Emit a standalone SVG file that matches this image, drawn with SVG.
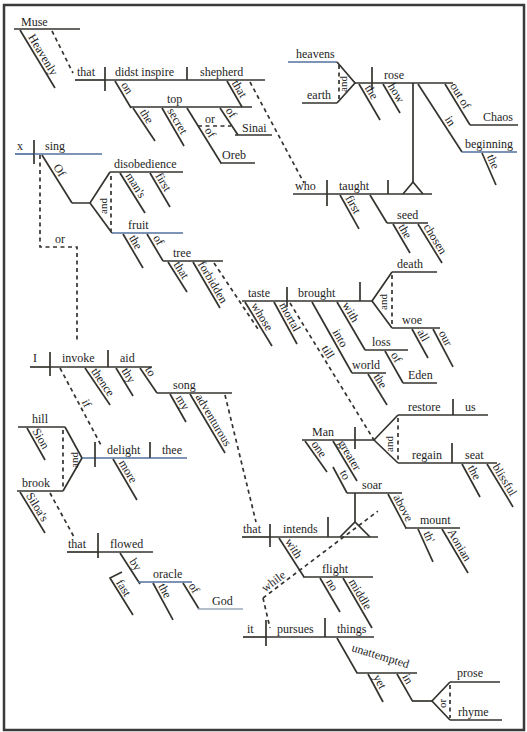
<svg xmlns="http://www.w3.org/2000/svg" width="527" height="732" viewBox="0 0 527 732" font-family="'Liberation Serif','Times New Roman',serif">
<style>
.l{stroke:#34332e;stroke-width:1.7;fill:none}
.b{stroke:#52709e}
.d{stroke-dasharray:4 3.5}
text{font-family:"Liberation Serif","Times New Roman",serif;font-size:12px;fill:#1e1e1e}
.r{font-size:11px}
</style>
<rect width="527" height="732" fill="#fff"/>
<rect x="4" y="5" width="520" height="725" fill="none" stroke="#3a3a3a" stroke-width="2.5"/>

<g id="n-muse"><line class="l" x1="14" y1="29" x2="80" y2="29"/><text x="21" y="26">Muse</text></g>
<g id="n-heavenly" transform="translate(20,30) rotate(58.9)"><line class="l" x2="67.7"/><text x="10" y="-3">Heavenly</text></g>
<g id="n-that1"><line class="l" x1="75" y1="80" x2="105" y2="80"/><line class="l" x1="105" y1="67" x2="105" y2="91"/><text x="77" y="76">that</text></g>
<g id="n-didst"><line class="l" x1="105" y1="80" x2="187" y2="80"/><text x="115" y="76">didst inspire</text></g>
<g id="n-shepherd"><line class="l" x1="187" y1="80" x2="265" y2="80"/><line class="l" x1="187" y1="67" x2="187" y2="80"/><text x="200" y="76">shepherd</text></g>
<g id="n-on" transform="translate(115,81) rotate(59.3)"><line class="l" x2="31.4"/><text x="6" y="-3">on</text></g>
<g id="n-top"><line class="l" x1="130" y1="107" x2="252" y2="107"/><text x="167" y="103">top</text></g>
<g id="n-the1" transform="translate(133,108) rotate(56.3)"><line class="l" x2="39.7"/><text x="7" y="-3">the</text></g>
<g id="n-secret" transform="translate(162,108) rotate(59.9)"><line class="l" x2="43.9"/><text x="5" y="-3">secret</text></g>
<g id="n-of-oreb" transform="translate(187,108) rotate(58.3)"><line class="l" x2="64.7"/><text x="28" y="-3">of</text></g>
<g id="n-of-sinai" transform="translate(220,108) rotate(56.3)"><line class="l" x2="32.4"/><text x="5" y="-3">of</text></g>
<g id="n-or1"><line class="l d" x1="198" y1="126" x2="231" y2="126"/><text x="205" y="123">or</text></g>
<g id="n-sinai"><line class="l" x1="235" y1="135" x2="272" y2="135"/><text x="242" y="132">Sinai</text></g>
<g id="n-oreb"><line class="l" x1="220" y1="163" x2="255" y2="163"/><text x="222" y="159">Oreb</text></g>
<g id="n-that2" transform="translate(227,81) rotate(60)"><line class="l" x2="30"/><text x="4" y="-3">that</text></g>

<g id="n-heavens"><line class="l b" x1="288" y1="62" x2="337" y2="62"/><text x="296" y="58">heavens</text></g>
<g id="n-earth"><line class="l" x1="302" y1="103" x2="337" y2="103"/><text x="307" y="99">earth</text></g>
<g id="n-and1"><polyline class="l" points="337,62 355,83 337,103"/><line class="l d" x1="339" y1="65" x2="339" y2="100"/><text class="r" transform="translate(347,92) rotate(-90)">and</text></g>
<g id="n-rose"><line class="l" x1="355" y1="83" x2="453" y2="83"/><line class="l" x1="372" y1="67" x2="372" y2="90"/><text x="384" y="79">rose</text></g>
<g id="n-the2" transform="translate(359,84) rotate(59.7)"><line class="l" x2="41.7"/><text x="6" y="-3">the</text></g>
<g id="n-how" transform="translate(383,84) rotate(59.6)"><line class="l" x2="33.6"/><text x="4" y="-3">how</text></g>
<g id="n-stilt1"><line class="l" x1="413" y1="83" x2="413" y2="182"/><polyline class="l" points="403,194 413,182 423,194"/></g>
<g id="n-in1" transform="translate(418,84) rotate(57.1)"><line class="l" x2="81"/><text x="44" y="-3">in</text></g>
<g id="n-beginning"><line class="l b" x1="462" y1="152" x2="517" y2="152"/><text x="465" y="148">beginning</text></g>
<g id="n-the3" transform="translate(482,153) rotate(66.4)"><line class="l" x2="34.9"/><text x="5" y="-3">the</text></g>
<g id="n-outof" transform="translate(445,84) rotate(58.6)"><line class="l" x2="48"/><text x="4" y="-3">out of</text></g>
<g id="n-chaos"><line class="l" x1="470" y1="125" x2="518" y2="125"/><text x="483" y="121">Chaos</text></g>

<g id="n-who"><line class="l" x1="293" y1="194" x2="327" y2="194"/><line class="l" x1="327" y1="180" x2="327" y2="206"/><text x="295" y="190">who</text></g>
<g id="n-taught"><line class="l" x1="327" y1="194" x2="432" y2="194"/><line class="l" x1="388" y1="180" x2="388" y2="194"/><text x="339" y="190">taught</text></g>
<g id="n-first1" transform="translate(340,195) rotate(60.8)"><line class="l" x2="38.9"/><text x="5" y="-3">first</text></g>
<g id="n-seed"><line class="l" x1="370" y1="195" x2="387" y2="223"/><line class="l" x1="387" y1="223" x2="428" y2="223"/><text x="397" y="219">seed</text></g>
<g id="n-the4" transform="translate(393,224) rotate(59.6)"><line class="l" x2="33.6"/><text x="5" y="-3">the</text></g>
<g id="n-chosen" transform="translate(418,224) rotate(58.4)"><line class="l" x2="45.8"/><text x="5" y="-3">chosen</text></g>

<g id="n-x"><line class="l b" x1="15" y1="154" x2="34" y2="154"/><line class="l" x1="34" y1="140" x2="34" y2="164"/><text x="17" y="150">x</text></g>
<g id="n-sing"><line class="l b" x1="34" y1="154" x2="102" y2="154"/><text x="45" y="150">sing</text></g>
<g id="n-of1" transform="translate(42,155) rotate(58)"><line class="l" x2="56.6"/><text x="16" y="-3">Of</text></g>
<g id="n-and2"><polyline class="l" points="72,203 90,203 110,172"/><line class="l" x1="90" y1="203" x2="112" y2="233"/><line class="l d" x1="111" y1="176" x2="111" y2="231"/><text class="r" transform="translate(107,214) rotate(-90)">and</text></g>
<g id="n-disobedience"><line class="l" x1="110" y1="172" x2="183" y2="172"/><text x="114" y="168">disobedience</text></g>
<g id="n-mans" transform="translate(120,173) rotate(58)"><line class="l" x2="47.2"/><text x="5" y="-3">man's</text></g>
<g id="n-first2" transform="translate(150,173) rotate(59.5)"><line class="l" x2="39.4"/><text x="5" y="-3">first</text></g>
<g id="n-fruit"><line class="l b" x1="112" y1="233" x2="183" y2="233"/><text x="128" y="229">fruit</text></g>
<g id="n-the5" transform="translate(123,234) rotate(59.5)"><line class="l" x2="39.4"/><text x="6" y="-3">the</text></g>
<g id="n-of2" transform="translate(147,234) rotate(59.3)"><line class="l" x2="31.4"/><text x="6" y="-3">of</text></g>
<g id="n-tree"><line class="l" x1="163" y1="261" x2="223" y2="261"/><text x="173" y="257">tree</text></g>
<g id="n-that3" transform="translate(168,262) rotate(57.7)"><line class="l" x2="35.5"/><text x="5" y="-3">that</text></g>
<g id="n-forbidden" transform="translate(193,262) rotate(59.6)"><line class="l" x2="53.3"/><text x="4" y="-3">forbidden</text></g>

<g id="n-taste"><line class="l" x1="242" y1="301" x2="287" y2="301"/><line class="l" x1="287" y1="287" x2="287" y2="307"/><text x="248" y="297">taste</text></g>
<g id="n-brought"><line class="l" x1="287" y1="301" x2="372" y2="301"/><line class="l" x1="360" y1="282" x2="360" y2="301"/><text x="298" y="297">brought</text></g>
<g id="n-whose" transform="translate(245,302) rotate(58.5)"><line class="l" x2="51.6"/><text x="6" y="-3">whose</text></g>
<g id="n-mortal" transform="translate(274,302) rotate(61.3)"><line class="l" x2="47.9"/><text x="5" y="-3">mortal</text></g>
<g id="n-and3"><polyline class="l" points="392,272 372,301 392,328"/><line class="l d" x1="392" y1="275" x2="392" y2="326"/><text class="r" transform="translate(387,310) rotate(-90)">and</text></g>
<g id="n-death"><line class="l" x1="392" y1="272" x2="437" y2="272"/><text x="397" y="268">death</text></g>
<g id="n-woe"><line class="l" x1="392" y1="328" x2="440" y2="328"/><text x="402" y="324">woe</text></g>
<g id="n-all" transform="translate(412,329) rotate(61.1)"><line class="l" x2="33.1"/><text x="5" y="-3">all</text></g>
<g id="n-our" transform="translate(433,329) rotate(62.2)"><line class="l" x2="42.9"/><text x="6" y="-3">our</text></g>
<g id="n-with1" transform="translate(337,302) rotate(59.7)"><line class="l" x2="55.6"/><text x="5" y="-3">with</text></g>
<g id="n-loss"><line class="l" x1="365" y1="350" x2="408" y2="350"/><text x="372" y="346">loss</text></g>
<g id="n-of3" transform="translate(385,351) rotate(60.6)"><line class="l" x2="36.7"/><text x="6" y="-3">of</text></g>
<g id="n-eden"><line class="l" x1="403" y1="383" x2="437" y2="383"/><text x="408" y="379">Eden</text></g>
<g id="n-into" transform="translate(312,302) rotate(60.6)"><line class="l" x2="81.5"/><text x="36" y="-3">into</text></g>
<g id="n-world"><line class="l" x1="352" y1="373" x2="386" y2="373"/><text x="352" y="369">world</text></g>
<g id="n-the6" transform="translate(368,374) rotate(58.5)"><line class="l" x2="36.4"/><text x="5" y="-3">the</text></g>

<g id="n-man"><line class="l" x1="302" y1="440" x2="355" y2="440"/><line class="l" x1="355" y1="427" x2="355" y2="449"/><text x="312" y="436">Man</text></g>
<g id="n-and4"><polyline class="l" points="355,440 374,440 398,415"/><line class="l" x1="374" y1="440" x2="398" y2="463"/><line class="l d" x1="398" y1="418" x2="398" y2="460"/><text class="r" transform="translate(393,452) rotate(-90)">and</text></g>
<g id="n-restore"><line class="l" x1="398" y1="415" x2="453" y2="415"/><line class="l" x1="453" y1="399" x2="453" y2="415"/><text x="408" y="411">restore</text></g>
<g id="n-us"><line class="l" x1="453" y1="415" x2="488" y2="415"/><text x="465" y="411">us</text></g>
<g id="n-regain"><line class="l" x1="398" y1="463" x2="452" y2="463"/><line class="l" x1="452" y1="443" x2="452" y2="463"/><text x="412" y="459">regain</text></g>
<g id="n-seat"><line class="l" x1="452" y1="463" x2="497" y2="463"/><text x="465" y="459">seat</text></g>
<g id="n-the7" transform="translate(462,464) rotate(61.4)"><line class="l" x2="37.6"/><text x="6" y="-3">the</text></g>
<g id="n-blissful" transform="translate(487,464) rotate(58.8)"><line class="l" x2="50.2"/><text x="5" y="-3">blissful</text></g>
<g id="n-one" transform="translate(305,441) rotate(54.6)"><line class="l" x2="38"/><text x="6" y="-3">one</text></g>
<g id="n-greater" transform="translate(333,441) rotate(59)"><line class="l" x2="46.6"/><text x="4" y="-3">greater</text></g>
<g id="n-to1" transform="translate(333,467) rotate(61.7)"><line class="l" x2="29.5"/><text x="8" y="-3">to</text></g>
<g id="n-soar"><line class="l" x1="347" y1="493" x2="402" y2="493"/><text x="362" y="489">soar</text></g>
<g id="n-stilt2"><line class="l" x1="355" y1="493" x2="355" y2="523"/><polyline class="l" points="340,537 355,522 370,537"/></g>
<g id="n-above" transform="translate(388,494) rotate(62.1)"><line class="l" x2="38.5"/><text x="5" y="-3">above</text></g>
<g id="n-mount"><line class="l" x1="405" y1="528" x2="460" y2="528"/><text x="420" y="524">mount</text></g>
<g id="n-th" transform="translate(418,529) rotate(65.6)"><line class="l" x2="36.2"/><text x="6" y="-3">th'</text></g>
<g id="n-aonian" transform="translate(442,529) rotate(59.4)"><line class="l" x2="51.1"/><text x="5" y="-3">Aonian</text></g>

<g id="n-that4"><line class="l" x1="242" y1="537" x2="270" y2="537"/><line class="l" x1="270" y1="524" x2="270" y2="547"/><text x="243" y="533">that</text></g>
<g id="n-intends"><line class="l" x1="270" y1="537" x2="378" y2="537"/><line class="l" x1="328" y1="517" x2="328" y2="537"/><text x="283" y="533">intends</text></g>
<g id="n-with2" transform="translate(279,538) rotate(57.3)"><line class="l" x2="46.3"/><text x="6" y="-3">with</text></g>
<g id="n-flight"><line class="l" x1="303" y1="577" x2="373" y2="577"/><text x="322" y="573">flight</text></g>
<g id="n-no" transform="translate(320,578) rotate(59.5)"><line class="l" x2="39.4"/><text x="6" y="-3">no</text></g>
<g id="n-middle" transform="translate(343,578) rotate(59.9)"><line class="l" x2="57.8"/><text x="6" y="-3">middle</text></g>

<g id="n-it"><line class="l" x1="243" y1="637" x2="266" y2="637"/><line class="l" x1="266" y1="620" x2="266" y2="646"/><text x="247" y="633">it</text></g>
<g id="n-pursues"><line class="l" x1="266" y1="637" x2="325" y2="637"/><line class="l" x1="325" y1="618" x2="325" y2="637"/><text x="277" y="633">pursues</text></g>
<g id="n-things"><line class="l" x1="325" y1="637" x2="374" y2="637"/><text x="337" y="633">things</text></g>
<g id="n-unattempted"><polyline class="l" points="337,638 357,673 417,673"/><text transform="translate(351,651) rotate(17)">unattempted</text></g>
<g id="n-yet" transform="translate(368,674) rotate(61.8)"><line class="l" x2="31.8"/><text x="5" y="-3">yet</text></g>
<g id="n-in2"><g transform="translate(397,674) rotate(60.3)"><line class="l" x2="31"/><text x="5" y="-3">in</text></g><line class="l" x1="412" y1="701" x2="432" y2="701"/></g>
<g id="n-or3"><polyline class="l" points="450,682 432,701 450,720"/><line class="l d" x1="450" y1="685" x2="450" y2="718"/><text class="r" transform="translate(446,708) rotate(-90)">or</text></g>
<g id="n-prose"><line class="l" x1="450" y1="682" x2="500" y2="682"/><text x="457" y="677">prose</text></g>
<g id="n-rhyme"><line class="l" x1="450" y1="720" x2="502" y2="720"/><text x="458" y="716">rhyme</text></g>

<g id="n-I"><line class="l" x1="30" y1="367" x2="50" y2="367"/><line class="l" x1="50" y1="352" x2="50" y2="376"/><text x="33" y="362">I</text></g>
<g id="n-invoke"><line class="l" x1="50" y1="367" x2="108" y2="367"/><line class="l" x1="108" y1="350" x2="108" y2="367"/><text x="62" y="362">invoke</text></g>
<g id="n-aid"><line class="l" x1="108" y1="367" x2="152" y2="367"/><text x="120" y="362">aid</text></g>
<g id="n-thence" transform="translate(85,368) rotate(55.9)"><line class="l" x2="44.7"/><text x="6" y="-3">thence</text></g>
<g id="n-thy" transform="translate(116,368) rotate(58.7)"><line class="l" x2="32.8"/><text x="5" y="-3">thy</text></g>
<g id="n-to2" transform="translate(140,368) rotate(55.8)"><line class="l" x2="30.2"/><text x="4" y="-3">to</text></g>
<g id="n-song"><line class="l" x1="157" y1="393" x2="232" y2="393"/><text x="173" y="389">song</text></g>
<g id="n-my" transform="translate(170,394) rotate(60.3)"><line class="l" x2="32.2"/><text x="6" y="-3">my</text></g>
<g id="n-adventurous" transform="translate(190,394) rotate(59.3)"><line class="l" x2="68.6"/><text x="5" y="-3">adventurous</text></g>

<g id="n-hill"><line class="l" x1="18" y1="427" x2="65" y2="427"/><text x="32" y="423">hill</text></g>
<g id="n-sion" transform="translate(27,428) rotate(60.6)"><line class="l" x2="36.7"/><text x="5" y="-3">Sion</text></g>
<g id="n-brook"><line class="l" x1="17" y1="491" x2="63" y2="491"/><text x="22" y="487">brook</text></g>
<g id="n-siloas" transform="translate(20,492) rotate(58.6)"><line class="l" x2="48"/><text x="6" y="-3">Siloa's</text></g>
<g id="n-and5"><polyline class="l" points="65,427 82,458 63,491"/><line class="l d" x1="63" y1="430" x2="63" y2="489"/><text class="r" transform="translate(78,468) rotate(-90)">and</text></g>
<g id="n-delight"><line class="l b" x1="82" y1="458" x2="150" y2="458"/><line class="l" x1="95" y1="442" x2="95" y2="467"/><line class="l" x1="150" y1="442" x2="150" y2="458"/><text x="107" y="454">delight</text></g>
<g id="n-thee"><line class="l b" x1="150" y1="458" x2="187" y2="458"/><text x="162" y="454">thee</text></g>
<g id="n-more" transform="translate(113,459) rotate(59.7)"><line class="l" x2="47.5"/><text x="6" y="-3">more</text></g>

<g id="n-that5"><line class="l" x1="67" y1="552" x2="98" y2="552"/><line class="l" x1="98" y1="533" x2="98" y2="558"/><text x="68" y="548">that</text></g>
<g id="n-flowed"><line class="l" x1="98" y1="552" x2="153" y2="552"/><text x="110" y="548">flowed</text></g>
<g id="n-by" transform="translate(120,553) rotate(57.2)"><line class="l" x2="36.9"/><text x="12" y="-3">by</text></g>
<g id="n-fast"><polyline class="l" points="122,572 110,578 133,615"/><text transform="translate(110,579) rotate(58.1) translate(6,-3)">fast</text></g>
<g id="n-oracle"><line class="l b" x1="138" y1="582" x2="192" y2="582"/><text x="153" y="578">oracle</text></g>
<g id="n-the8" transform="translate(153,583) rotate(61.6)"><line class="l" x2="42"/><text x="5" y="-3">the</text></g>
<g id="n-of4" transform="translate(183,583) rotate(58.4)"><line class="l" x2="30.5"/><text x="5" y="-3">of</text></g>
<g id="n-god"><line class="l" style="stroke:#9aa8b8" x1="198" y1="609" x2="243" y2="609"/><text x="212" y="605">God</text></g>

<g id="connectors">
<line class="l d" x1="52" y1="31" x2="73" y2="73"/>
<line class="l d" x1="250" y1="82" x2="304" y2="183"/>
<polyline class="l d" points="40,155 40,247 77,247 77,343"/>
<text x="55" y="243">or</text>
<line class="l d" x1="214" y1="263" x2="258" y2="329"/>
<line class="l d" x1="225" y1="395" x2="256" y2="522"/>
<line class="l d" x1="50" y1="493" x2="74" y2="537"/>
<g transform="translate(60,368) rotate(62)"><line class="l d" x2="87.2"/><text x="40" y="-3">if</text></g>
<g transform="translate(290,303) rotate(58.5)"><line class="l d" x2="160.7"/><text x="55" y="-3">till</text></g>
<g transform="translate(263,598) rotate(-37.1)"><line class="l d" x2="144"/><text x="5" y="-3">while</text></g>
<line class="l d" x1="263" y1="598" x2="270" y2="628"/>
</g>
</svg>
